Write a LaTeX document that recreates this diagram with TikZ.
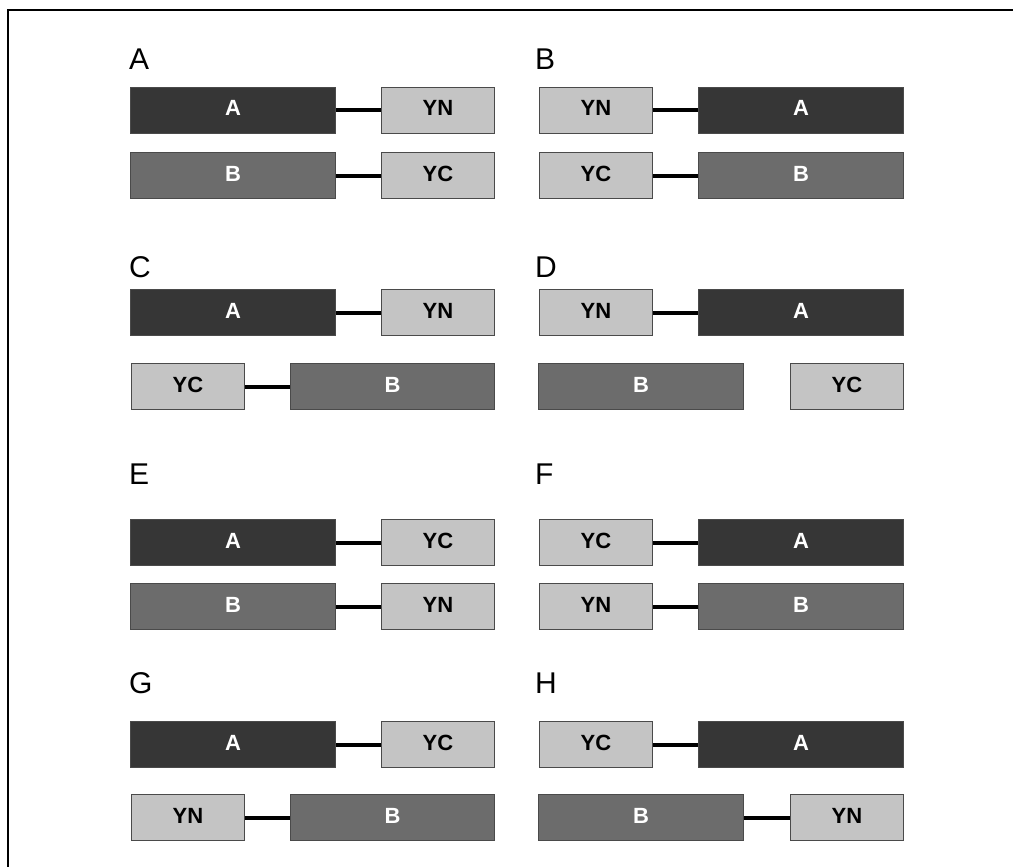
\documentclass[tikz,border=0pt]{standalone}
\usepackage{fontspec}
\setmainfont{Liberation Sans}
\definecolor{cdark}{HTML}{363636}
\definecolor{cmid}{HTML}{6C6C6C}
\definecolor{clight}{HTML}{C4C4C4}
\definecolor{cedge}{HTML}{4A4A4A}
\begin{document}
\begin{tikzpicture}[x=1pt,y=-1pt,
  dom/.style={draw=cedge, line width=1pt, rectangle, anchor=north west, inner sep=0pt,
    minimum height=46pt, text height=16pt, text depth=5pt,
    font=\fontsize{22}{22}\selectfont\bfseries},
  longd/.style={dom, fill=cdark, text=white, minimum width=205pt},
  longm/.style={dom, fill=cmid, text=white, minimum width=205pt},
  short/.style={dom, fill=clight, text=black, minimum width=113pt},
  conn/.style={draw=black, line width=4pt},
  ttl/.style={anchor=base west, inner sep=0pt, font=\fontsize{30}{30}\selectfont},
  frame/.style={draw=black, line width=2pt}]
\useasboundingbox (0,0) rectangle (1013,867);
\coordinate (f1) at (7.8,870);
\coordinate (f2) at (7.8,10);
\coordinate (f3) at (1016,10);
\draw[frame] (f1) -- (f2) -- (f3);

% titles
\node[ttl] (tA) at (129,70) {A};
\node[ttl] (tB) at (535,70) {B};
\node[ttl] (tC) at (129,277) {C};
\node[ttl] (tD) at (535,277) {D};
\node[ttl] (tE) at (129,484) {E};
\node[ttl] (tF) at (535,484) {F};
\node[ttl] (tG) at (129,693) {G};
\node[ttl] (tH) at (535,693) {H};

% Panel A
\node[longd] (pAa) at (130,87) {A};
\node[short] (pAyn) at (381,87) {YN};
\node[longm] (pAb) at (130,152) {B};
\node[short] (pAyc) at (381,152) {YC};
\draw[conn] (pAa.east) -- (pAyn.west);
\draw[conn] (pAb.east) -- (pAyc.west);

% Panel B
\node[short] (pByn) at (539,87) {YN};
\node[longd] (pBa) at (698,87) {A};
\node[short] (pByc) at (539,152) {YC};
\node[longm] (pBb) at (698,152) {B};
\draw[conn] (pByn.east) -- (pBa.west);
\draw[conn] (pByc.east) -- (pBb.west);

% Panel C
\node[longd] (pCa) at (130,289) {A};
\node[short] (pCyn) at (381,289) {YN};
\node[short] (pCyc) at (131,363) {YC};
\node[longm, minimum width=204pt] (pCb) at (290,363) {B};
\draw[conn] (pCa.east) -- (pCyn.west);
\draw[conn] (pCyc.east) -- (pCb.west);

% Panel D
\node[short] (pDyn) at (539,289) {YN};
\node[longd] (pDa) at (698,289) {A};
\node[longm] (pDb) at (538,363) {B};
\node[short] (pDyc) at (790,363) {YC};
\draw[conn] (pDyn.east) -- (pDa.west);

% Panel E
\node[longd] (pEa) at (130,519) {A};
\node[short] (pEyc) at (381,519) {YC};
\node[longm] (pEb) at (130,583) {B};
\node[short] (pEyn) at (381,583) {YN};
\draw[conn] (pEa.east) -- (pEyc.west);
\draw[conn] (pEb.east) -- (pEyn.west);

% Panel F
\node[short] (pFyc) at (539,519) {YC};
\node[longd] (pFa) at (698,519) {A};
\node[short] (pFyn) at (539,583) {YN};
\node[longm] (pFb) at (698,583) {B};
\draw[conn] (pFyc.east) -- (pFa.west);
\draw[conn] (pFyn.east) -- (pFb.west);

% Panel G
\node[longd] (pGa) at (130,721) {A};
\node[short] (pGyc) at (381,721) {YC};
\node[short] (pGyn) at (131,794) {YN};
\node[longm, minimum width=204pt] (pGb) at (290,794) {B};
\draw[conn] (pGa.east) -- (pGyc.west);
\draw[conn] (pGyn.east) -- (pGb.west);

% Panel H
\node[short] (pHyc) at (539,721) {YC};
\node[longd] (pHa) at (698,721) {A};
\node[longm] (pHb) at (538,794) {B};
\node[short] (pHyn) at (790,794) {YN};
\draw[conn] (pHyc.east) -- (pHa.west);
\draw[conn] (pHb.east) -- (pHyn.west);
\end{tikzpicture}
\end{document}
